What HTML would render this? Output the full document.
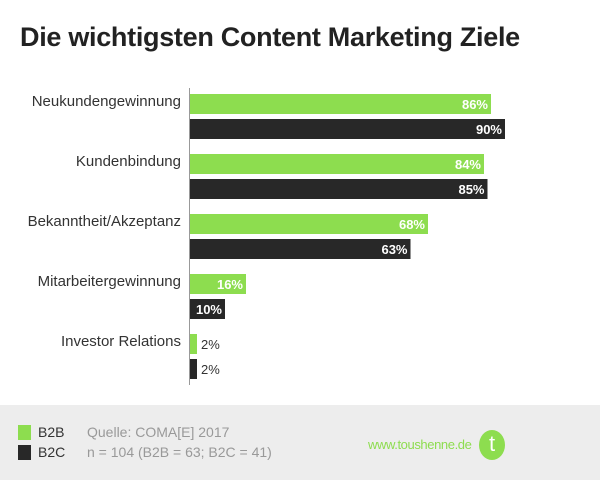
<!DOCTYPE html>
<html><head><meta charset="utf-8"><style>
body{margin:0;width:600px;height:480px;background:#fff;font-family:"Liberation Sans",sans-serif;position:relative;overflow:hidden}
#title{position:absolute;left:20px;top:22px;font-size:27px;font-weight:bold;color:#222;letter-spacing:-0.3px}
#footer{position:absolute;left:0;top:405px;width:600px;height:75px;background:#ededed}
.t{position:absolute;font-size:14px}
</style></head><body>
<div id="title">Die wichtigsten Content Marketing Ziele</div>
<svg id="chart" width="600" height="405" style="position:absolute;left:0;top:0"></svg>
<div id="footer">
 <div style="position:absolute;left:18px;top:20px;width:13px;height:15px;background:#8ddd4f"></div>
 <div class="t" style="left:38px;top:19px;color:#333">B2B</div>
 <div style="position:absolute;left:18px;top:40px;width:13px;height:15px;background:#282828"></div>
 <div class="t" style="left:38px;top:39px;color:#333">B2C</div>
 <div class="t" style="left:87px;top:19px;color:#999">Quelle: COMA[E] 2017</div>
 <div class="t" style="left:87px;top:39px;color:#999">n = 104 (B2B = 63; B2C = 41)</div>
 <div class="t" style="left:368px;top:32px;color:#8ddd4f;font-size:13px;letter-spacing:-0.4px">www.toushenne.de</div>
 <div style="position:absolute;left:479px;top:25px;width:26px;height:30px;border-radius:50%;background:#8ddd4f;color:#fff;font-size:22px;text-align:center;line-height:28px">t</div>
</div>
<script>
const categories=["Neukundengewinnung","Kundenbindung","Bekanntheit/Akzeptanz","Mitarbeitergewinnung","Investor Relations"];
const b2b=[86,84,68,16,2];
const b2c=[90,85,63,10,2];
const svg=document.getElementById('chart');
const NS='http://www.w3.org/2000/svg';
const x0=190,scale=3.5,top0=94,gap=60,bh=20;
const xs=v=>v*scale;
function mk(t,a){const e=document.createElementNS(NS,t);for(const k in a)e.setAttribute(k,a[k]);svg.appendChild(e);return e;}
const ax=mk('line',{x1:189.5,x2:189.5,y1:88,y2:385,stroke:'#999','stroke-width':1});


categories.forEach((c,i)=>{
 const y=top0+i*gap;
 const lab=mk('text',{x:181,y:y+12,'text-anchor':'end','font-size':15,fill:'#333','font-family':'Liberation Sans, sans-serif'});
 lab.textContent=c;
 
 
 [[b2b[i],'#8ddd4f',y,'bar-b2b'],[b2c[i],'#282828',y+25,'bar-b2c']].forEach(([v,col,yy,nm])=>{
  const w=xs(v);
  const r=mk('rect',{x:x0,y:yy,width:w,height:bh,fill:col});
  
  
  const inside=w>30;
  const t=mk('text',{x:inside?x0+w-3:x0+w+4,y:yy+15,'text-anchor':inside?'end':'start','font-size':13,'font-weight':inside?'bold':'normal',fill:inside?'#fff':'#333','font-family':'Liberation Sans, sans-serif'});
  t.textContent=v+'%';
  
  
 });
});
</script>
</body></html>
